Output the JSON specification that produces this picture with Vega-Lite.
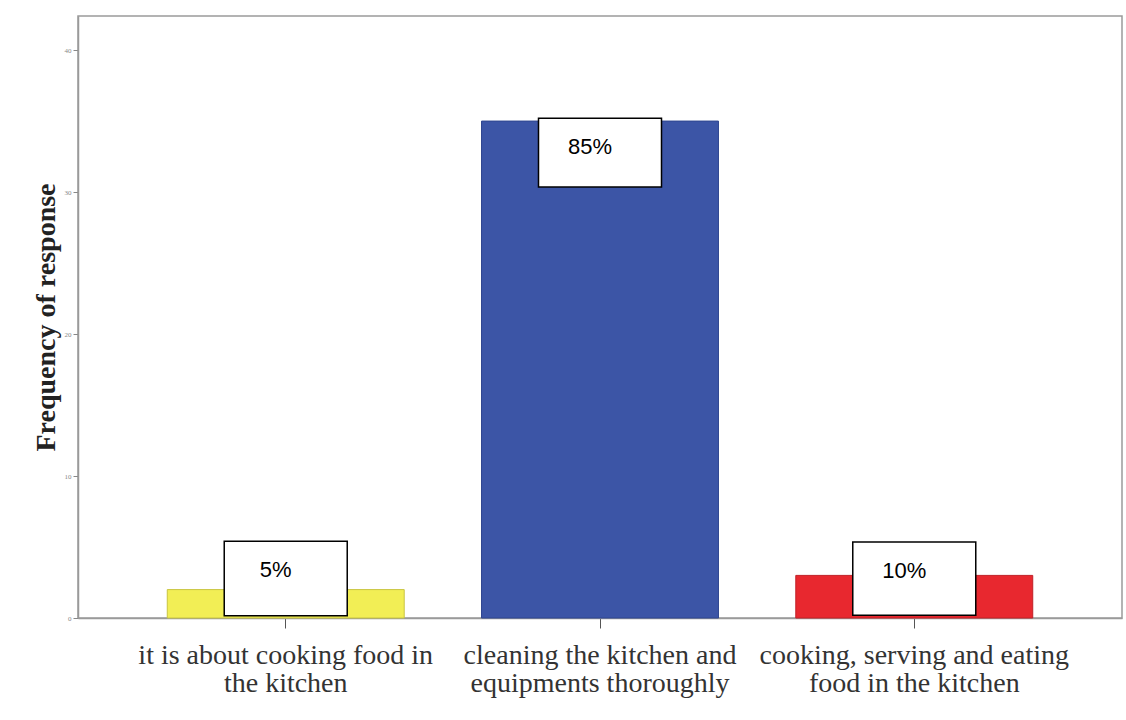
{
  "$schema": "https://vega.github.io/schema/vega-lite/v6.json",
  "width": 1044,
  "height": 602,
  "autosize": {"type": "none"},
  "padding": {"left": 78, "top": 16, "right": 4, "bottom": 102},
  "background": "white",
  "config": {
    "view": {"stroke": "#9a9a9a", "strokeWidth": 1.5},
    "font": "Liberation Serif"
  },
  "datasets": {
    "bars": [
      {"response": "it is about cooking food in|the kitchen", "frequency": 2, "colour": "yellow"},
      {"response": "cleaning the kitchen and|equipments thoroughly", "frequency": 35, "colour": "blue"},
      {"response": "cooking, serving and eating|food in the kitchen", "frequency": 3, "colour": "red"}
    ],
    "labels": [
      {"response": "it is about cooking food in|the kitchen", "label": "5%", "box_top": 5.4, "box_bottom": 0.15},
      {"response": "cleaning the kitchen and|equipments thoroughly", "label": "85%", "box_top": 35.2, "box_bottom": 30.35},
      {"response": "cooking, serving and eating|food in the kitchen", "label": "10%", "box_top": 5.35, "box_bottom": 0.2}
    ]
  },
  "encoding": {
    "x": {
      "field": "response",
      "type": "nominal",
      "sort": null,
      "scale": {"paddingInner": 0.246, "paddingOuter": 0.284},
      "axis": {
        "title": null,
        "labelAngle": 0,
        "labelLimit": 0,
        "labelExpr": "split(datum.value, '|')",
        "labelFont": "Liberation Serif",
        "labelFontSize": 28,
        "labelColor": "#333333",
        "labelLineHeight": 28,
        "labelPadding": 13,
        "tickSize": 10,
        "tickColor": "#555555",
        "domainColor": "#9a9a9a",
        "domainWidth": 1.5
      }
    }
  },
  "layer": [
    {
      "data": {"name": "bars"},
      "mark": {"type": "bar", "strokeWidth": 1},
      "encoding": {
        "y": {
          "field": "frequency",
          "type": "quantitative",
          "scale": {"domain": [0, 42.4], "nice": false},
          "axis": {
            "title": "Frequency of response",
            "titleFont": "Liberation Serif",
            "titleFontSize": 28,
            "titleFontWeight": "bold",
            "titleColor": "#222222",
            "titlePadding": 4,
            "values": [0, 10, 20, 30, 40],
            "labelFontSize": 7,
            "labelColor": "#888888",
            "labelPadding": 2,
            "tickSize": 5,
            "tickColor": "#888888",
            "domainColor": "#9a9a9a",
            "domainWidth": 1.5,
            "grid": false
          }
        },
        "color": {
          "field": "colour",
          "type": "nominal",
          "scale": {"domain": ["yellow", "blue", "red"], "range": ["#f2ee55", "#3c55a6", "#e8282f"]},
          "legend": null
        },
        "stroke": {
          "field": "colour",
          "type": "nominal",
          "scale": {"domain": ["yellow", "blue", "red"], "range": ["#c8c440", "#2f4690", "#c02027"]},
          "legend": null
        }
      }
    },
    {
      "data": {"name": "labels"},
      "mark": {"type": "bar", "width": 123, "fill": "white", "stroke": "black", "strokeWidth": 1.5},
      "encoding": {
        "y": {"field": "box_top", "type": "quantitative"},
        "y2": {"field": "box_bottom"}
      }
    },
    {
      "data": {"name": "labels"},
      "mark": {"type": "text", "font": "Liberation Sans", "fontSize": 22, "color": "black", "baseline": "middle", "dx": -10, "dy": 29},
      "encoding": {
        "y": {"field": "box_top", "type": "quantitative"},
        "text": {"field": "label"}
      }
    }
  ]
}
